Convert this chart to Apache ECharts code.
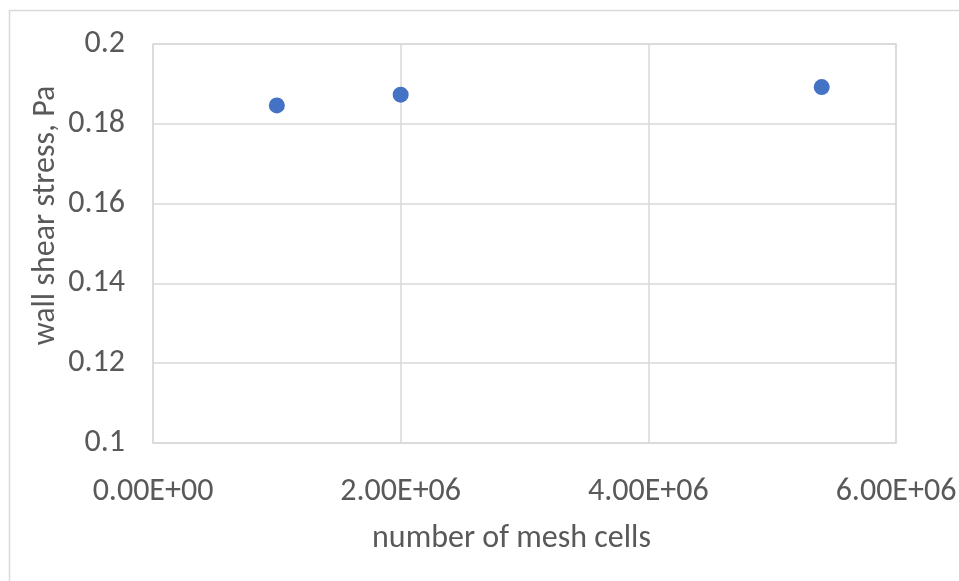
<!DOCTYPE html>
<html>
<head>
<meta charset="utf-8">
<script src="https://cdn.jsdelivr.net/npm/echarts@6/dist/echarts.min.js"></script>
<style>
  html, body { margin: 0; padding: 0; background: #fff; }
  #chart { width: 959px; height: 581px; }
</style>
</head>
<body>
<div id="chart"></div>
<script>
// Mesh independence study: wall shear stress vs. mesh size
const meshCells = [1.0e6, 2.0e6, 5.4e6];
const wallShearStress = [0.1846, 0.1873, 0.1892];
const xTickValues = [0, 2e6, 4e6, 6e6];
const yTickValues = [0.1, 0.12, 0.14, 0.16, 0.18, 0.2];

const FONT = 'Carlito, "Open Sans", sans-serif';
const FONT_SIZE = 32;
const TEXT_COLOR = '#595959';
const GRID_COLOR = '#d9d9d9';

function sci(v) {
  if (v === 0) return '0.00E+00';
  const e = Math.floor(Math.log10(Math.abs(v)));
  const m = v / Math.pow(10, e);
  const es = (e < 0 ? '-' : '+') + String(Math.abs(e)).padStart(2, '0');
  return m.toFixed(2) + 'E' + es;
}

const chart = echarts.init(document.getElementById('chart'), null, { renderer: 'canvas' });

chart.setOption({
  animation: false,
  backgroundColor: '#ffffff',
  graphic: [{
    type: 'rect',
    shape: { x: 9.5, y: 10.5, width: 1000, height: 1000 },
    style: { fill: 'none', stroke: GRID_COLOR, lineWidth: 1.5 },
    silent: true,
    z: -10
  }],
  grid: {
    left: 153, right: 63, top: 44, bottom: 138,
    containLabel: false,
    outerBoundsMode: 'none',
    show: true, borderColor: GRID_COLOR, borderWidth: 1.5, backgroundColor: 'transparent'
  },
  xAxis: {
    type: 'value',
    min: xTickValues[0],
    max: xTickValues[xTickValues.length - 1],
    interval: 2e6,
    name: 'number of mesh cells',
    nameLocation: 'middle',
    nameGap: 80,
    nameTextStyle: { fontFamily: FONT, fontSize: FONT_SIZE, color: TEXT_COLOR, padding: [0, 26, 0, 0] },
    axisLine: { show: false },
    axisTick: { show: false },
    axisLabel: {
      fontFamily: FONT, fontSize: FONT_SIZE, color: TEXT_COLOR, margin: 33,
      formatter: v => sci(v)
    },
    splitLine: { show: true, lineStyle: { color: GRID_COLOR, width: 1.5 } }
  },
  yAxis: {
    type: 'value',
    min: yTickValues[0],
    max: yTickValues[yTickValues.length - 1],
    interval: 0.02,
    name: 'wall shear stress, Pa',
    nameLocation: 'middle',
    nameGap: 91,
    nameMoveOverlap: false,
    nameRotate: 90,
    nameTextStyle: { fontFamily: FONT, fontSize: FONT_SIZE, color: TEXT_COLOR, padding: [0, 0, 0, 56] },
    axisLine: { show: false },
    axisTick: { show: false },
    axisLabel: {
      fontFamily: FONT, fontSize: FONT_SIZE, color: TEXT_COLOR, margin: 28,
      formatter: v => String(parseFloat(v.toFixed(2)))
    },
    splitLine: { show: true, lineStyle: { color: GRID_COLOR, width: 1.5 } }
  },
  series: [{
    type: 'scatter',
    data: meshCells.map((x, i) => [x, wallShearStress[i]]),
    symbol: 'circle',
    symbolSize: 16,
    itemStyle: { color: '#4472c4', opacity: 1 }
  }]
});
</script>
</body>
</html>
